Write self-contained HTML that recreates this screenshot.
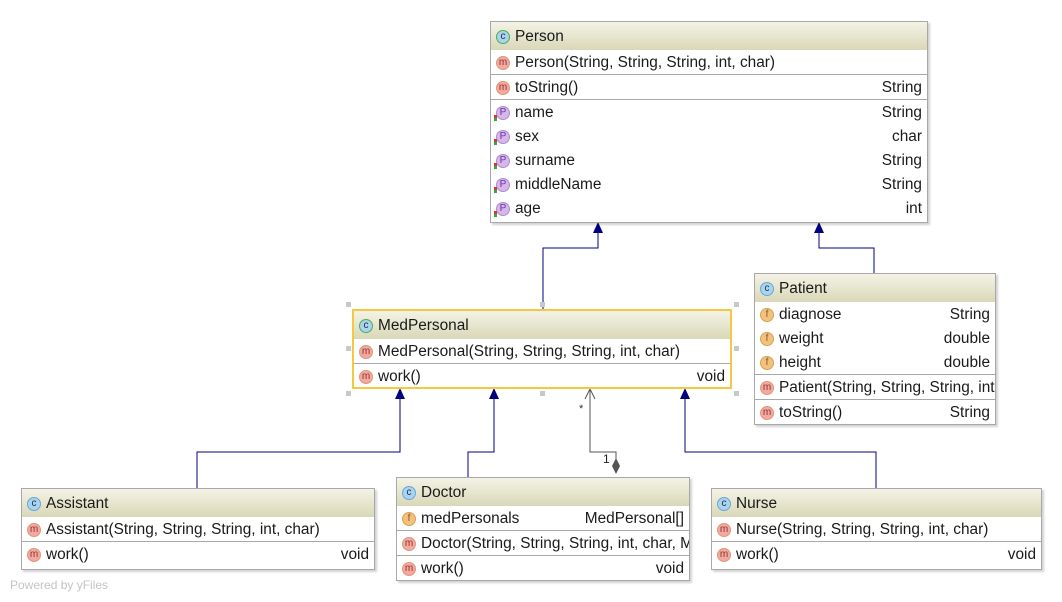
<!DOCTYPE html>
<html><head><meta charset="utf-8"><style>
body{margin:0;width:1062px;height:602px;background:#fff;position:relative;overflow:hidden;font-family:"Liberation Sans","DejaVu Sans",sans-serif;font-size:15.4px;color:#1a1a1a}
.box{position:absolute;background:#fff;border:1px solid #a8a8a8;box-shadow:2px 2px 2px rgba(0,0,0,.18);overflow:hidden;box-sizing:border-box}
.hd{height:28px;box-sizing:border-box;padding-top:2px;background:linear-gradient(#f4f3e6,#d9d8b8);display:flex;align-items:center;padding-left:5px;white-space:nowrap}
.r{height:24px;box-sizing:border-box;padding:2px 5px 0 5px;display:flex;align-items:center;white-space:nowrap}
.sep{border-top:1px solid #a8a8a8;height:25px}
.n{flex:1;overflow:hidden}
.t{padding-left:6px}
.i{display:inline-block;border-radius:50%;font-size:10px;text-align:center;margin-right:5px;flex:none;position:relative;width:12px;height:12px;line-height:12px}
.c{background:#a9d3f0;border:1px solid #6aa7d3;color:#234}
.cg{background:#a9d3f0;border:1px solid #4caf50;color:#234}
.m{background:#f4a8a0;color:#833;border:1px solid #d97}
.f{background:#f2c27c;color:#853;border:1px solid #d9a050}
.p{background:#d7b6ee;color:#639;border:1px solid #b08ad0}
.p::before{content:"";position:absolute;left:-3px;top:8px;width:3px;height:3px;background:#d33;box-shadow:0 3px 0 #3a3}
.h{position:absolute;width:5px;height:5px;background:#c8c8c8}
</style></head><body>
<svg width="1062" height="602" style="position:absolute;left:0;top:0">
<g fill="none" stroke="#000080" stroke-width="1">
<polyline points="543,309 543,248 598,248 598,230"/>
<polyline points="874,273 874,248 819,248 819,230"/>
<polyline points="197,488 197,452 400,452 400,396"/>
<polyline points="468,477 468,452 494,452 494,396"/>
<polyline points="876,488 876,452 685,452 685,396"/>
</g>
<g fill="#000080">
<polygon points="598,222 593,233 603,233"/>
<polygon points="819,222 814,233 824,233"/>
<polygon points="400,388 395,399 405,399"/>
<polygon points="494,388 489,399 499,399"/>
<polygon points="685,388 680,399 690,399"/>
</g>
<polyline points="616,460 616,452 590,452 590,389" fill="none" stroke="#555"/>
<polyline points="585,399 590,389 595,399" fill="none" stroke="#555"/>
<polygon points="616,458 620,466 616,474 612,466" fill="#555"/>
<text x="579" y="412" font-size="11" fill="#333" font-family="Liberation Sans">*</text>
<text x="603" y="463" font-size="12" fill="#222" font-family="Liberation Sans">1</text>
</svg>

<div class="box" style="left:490px;top:21px;width:438px;height:202px">
<div class="hd"><span class="i cg">c</span>Person</div>
<div class="r"><span class="i m">m</span><span class="n">Person(String, String, String, int, char)</span></div>
<div class="r sep"><span class="i m">m</span><span class="n">toString()</span><span class="t">String</span></div>
<div class="r sep"><span class="i p">P</span><span class="n">name</span><span class="t">String</span></div>
<div class="r"><span class="i p">P</span><span class="n">sex</span><span class="t">char</span></div>
<div class="r"><span class="i p">P</span><span class="n">surname</span><span class="t">String</span></div>
<div class="r"><span class="i p">P</span><span class="n">middleName</span><span class="t">String</span></div>
<div class="r"><span class="i p">P</span><span class="n">age</span><span class="t">int</span></div>
</div>

<div class="box" style="left:754px;top:273px;width:242px;height:152px">
<div class="hd"><span class="i c">c</span>Patient</div>
<div class="r"><span class="i f">f</span><span class="n">diagnose</span><span class="t">String</span></div>
<div class="r"><span class="i f">f</span><span class="n">weight</span><span class="t">double</span></div>
<div class="r"><span class="i f">f</span><span class="n">height</span><span class="t">double</span></div>
<div class="r sep" style="padding-right:0"><span class="i m">m</span><span class="n">Patient(String, String, String, int, char)</span></div>
<div class="r sep"><span class="i m">m</span><span class="n">toString()</span><span class="t">String</span></div>
</div>

<div class="h" style="left:346px;top:302px"></div><div class="h" style="left:540px;top:302px"></div><div class="h" style="left:734px;top:302px"></div>
<div class="h" style="left:346px;top:346px"></div><div class="h" style="left:734px;top:346px"></div>
<div class="h" style="left:346px;top:391px"></div><div class="h" style="left:540px;top:391px"></div><div class="h" style="left:734px;top:391px"></div>
<div class="box" style="left:352px;top:309px;width:380px;height:80px;border:2px solid #f5c842;box-shadow:none">
<div class="hd" style="height:28px"><span class="i cg">c</span>MedPersonal</div>
<div class="r"><span class="i m">m</span><span class="n">MedPersonal(String, String, String, int, char)</span></div>
<div class="r sep"><span class="i m">m</span><span class="n">work()</span><span class="t">void</span></div>
</div>

<div class="box" style="left:21px;top:488px;width:354px;height:82px">
<div class="hd"><span class="i c">c</span>Assistant</div>
<div class="r"><span class="i m">m</span><span class="n">Assistant(String, String, String, int, char)</span></div>
<div class="r sep"><span class="i m">m</span><span class="n">work()</span><span class="t">void</span></div>
</div>

<div class="box" style="left:396px;top:477px;width:294px;height:104px">
<div class="hd"><span class="i c">c</span>Doctor</div>
<div class="r"><span class="i f">f</span><span class="n">medPersonals</span><span class="t">MedPersonal[]</span></div>
<div class="r sep" style="padding-right:0"><span class="i m">m</span><span class="n">Doctor(String, String, String, int, char, MedPersonal[])</span></div>
<div class="r sep"><span class="i m">m</span><span class="n">work()</span><span class="t">void</span></div>
</div>

<div class="box" style="left:711px;top:488px;width:331px;height:82px">
<div class="hd"><span class="i c">c</span>Nurse</div>
<div class="r"><span class="i m">m</span><span class="n">Nurse(String, String, String, int, char)</span></div>
<div class="r sep"><span class="i m">m</span><span class="n">work()</span><span class="t">void</span></div>
</div>

<div style="position:absolute;left:10px;top:578px;font-size:12px;color:#c4c4c4">Powered by yFiles</div>
</body></html>
